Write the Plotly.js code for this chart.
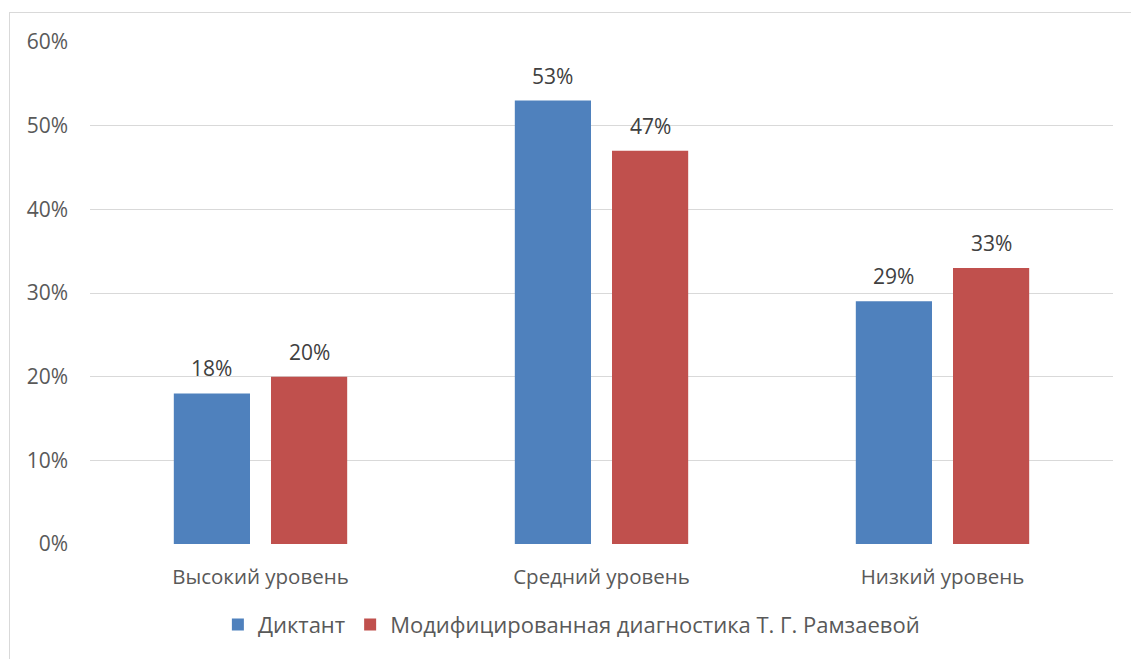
<!DOCTYPE html>
<html><head><meta charset="utf-8">
<script src="https://cdn.plot.ly/plotly-3.0.1.min.js"></script>
<style>
html,body{margin:0;padding:0;background:#fff;overflow:hidden}
#chart{width:1131px;height:659px}
#frame{position:absolute;left:9px;top:12px;width:1200px;height:700px;border:1px solid #d9d9d9;pointer-events:none}
</style></head>
<body>
<div id="chart"></div>
<div id="frame"></div>
<script>
const categories = ["Высокий уровень", "Средний уровень", "Низкий уровень"];
const seriesNames = ["Диктант", "Модифицированная диагностика Т. Г. Рамзаевой"];
const dictant = [0.18, 0.53, 0.29];
const ramzaeva = [0.20, 0.47, 0.33];
const colors = ["#4F81BD", "#C0504D"];

const font = "Open Sans, Lato, sans-serif";
const mk = (y, name, color) => ({
  type: "bar", x: categories, y: y, name: name,
  marker: {color: color},
  hoverinfo: "skip"
});
const data = [mk(dictant, seriesNames[0], colors[0]), mk(ramzaeva, seriesNames[1], colors[1])];

const plotW = 1131 - 90 - 18;
const bargap = 0.43;
const slot = plotW / categories.length * (1 - bargap) / 2;
const annotations = [];
[dictant, ramzaeva].forEach((ser, si) => {
  ser.forEach((v, i) => {
    annotations.push({
      x: categories[i], y: v, xref: "x", yref: "y",
      text: Math.round(v * 100) + "%", showarrow: false,
      xanchor: "center", yanchor: "bottom",
      xshift: (si === 0 ? -1 : 1) * slot / 2, yshift: 9,
      font: {family: font, size: 21, color: "#404040"}
    });
  });
});

const layout = {
  width: 1131, height: 659,
  margin: {l: 90, r: 18, t: 42, b: 115},
  paper_bgcolor: "#fff", plot_bgcolor: "#fff",
  barmode: "group", bargap: bargap, bargroupgap: 0.216,
  font: {family: font, size: 21, color: "#595959"},
  showlegend: true,
  annotations: annotations,
  legend: {orientation: "h", x: 0.125, xanchor: "left", y: -0.161, yanchor: "middle",
           itemwidth: 30, font: {family: font, size: 22, color: "#595959"}, traceorder: "normal"},
  xaxis: {showgrid: false, zeroline: false, showline: false, ticks: "",
          tickfont: {family: font, size: 20.5, color: "#595959"}, ticklabelstandoff: 18},
  yaxis: {range: [0, 0.6], dtick: 0.1, tickformat: ".0%", showgrid: true, gridcolor: "#d9d9d9",
          gridwidth: 1, zeroline: false, showline: false, ticks: "",
          tickfont: {family: font, size: 21, color: "#595959"}, ticklabelstandoff: 21}
};
Plotly.newPlot("chart", data, layout, {displayModeBar: false, staticPlot: true});
</script>
</body></html>
